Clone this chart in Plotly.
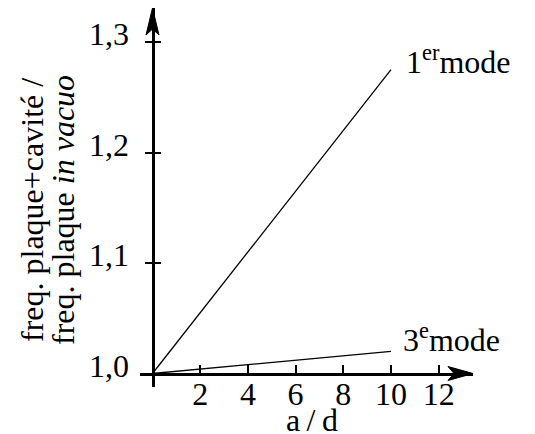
import plotly.graph_objects as go

# données
a_d = [0, 10]
mode1 = [1.0, 1.275]
mode3 = [1.0, 1.02]
x_ticks = [2, 4, 6, 8, 10, 12]
y_ticks = [1.0, 1.1, 1.2, 1.3]
y_ticktext = ["1,0", "1,1", "1,2", "1,3"]

FONT = "Liberation Serif, DejaVu Serif, serif"
FS = 32

# placement en pixels d'écran (fenêtre 535x434, marge du body = 8 px)
W, H, OFF = 535, 434, 8
PL, PR, PT, PB = 140, 473, 8, 387
X0_PX, PX_PER_X = 152.5, 23.85
Y1_PX, PX_PER_Y = 373.5, 1105.0

xmin = -(X0_PX - PL) / PX_PER_X
xmax = (PR - X0_PX) / PX_PER_X
ymin = 1.0 - (PB - Y1_PX) / PX_PER_Y
ymax = 1.0 + (Y1_PX - PT) / PX_PER_Y


def paper_x(px):
    return (px - PL) / (PR - PL)


def paper_y(py):
    return (PB - py) / (PB - PT)


xpos = (0 - xmin) / (xmax - xmin)
ypos = (1.0 - ymin) / (ymax - ymin)

fig = go.Figure()
for ys in (mode1, mode3):
    fig.add_trace(go.Scatter(x=a_d, y=ys, mode="lines",
                             line=dict(color="black", width=1.3),
                             hoverinfo="skip", showlegend=False))
# trace invisible pour l'axe des graduations intérieures
fig.add_trace(go.Scatter(x=a_d, y=mode1, yaxis="y2", mode="lines",
                         line=dict(width=0), hoverinfo="skip", showlegend=False))

fig.update_layout(
    width=W - OFF, height=H - OFF,
    margin=dict(l=PL - OFF, r=W - PR, t=PT - OFF, b=H - PB, pad=0),
    plot_bgcolor="white", paper_bgcolor="white",
    font=dict(family=FONT, size=FS, color="black"),
    xaxis=dict(range=[xmin, xmax], anchor="free", position=ypos,
               showline=True, linewidth=3, linecolor="black",
               ticks="inside", ticklen=8, tickwidth=1.5, tickcolor="black",
               tickmode="array", tickvals=x_ticks, ticklabelstandoff=-9,
               showgrid=False, zeroline=False),
    yaxis=dict(range=[ymin, ymax], anchor="free", position=xpos,
               showline=True, linewidth=3, linecolor="black",
               ticks="outside", ticklen=7, tickwidth=1.5, tickcolor="black",
               tickmode="array", tickvals=y_ticks, ticktext=y_ticktext,
               ticklabelstandoff=9, ticklabelshift=-8,
               showgrid=False, zeroline=False),
    yaxis2=dict(range=[ymin, ymax], overlaying="y", anchor="free", position=xpos,
                side="left", showline=False,
                ticks="inside", ticklen=7, tickwidth=1.5, tickcolor="black",
                tickmode="array", tickvals=y_ticks, showticklabels=False,
                showgrid=False, zeroline=False),
)

# pointes de flèche des axes
fig.add_shape(type="path", xref="x", yref="y", xsizemode="pixel", ysizemode="pixel",
              xanchor=0, yanchor=ymax,
              path="M0,0 L-6.5,-27 L0,-21 L6.5,-27 Z",
              fillcolor="black", line=dict(color="black", width=1))
fig.add_shape(type="path", xref="x", yref="y", xsizemode="pixel", ysizemode="pixel",
              xanchor=xmax, yanchor=1.0,
              path="M0,0 L-25,7 L-19,0 L-25,-7 Z",
              fillcolor="black", line=dict(color="black", width=1))

# titres d'axes
fig.add_annotation(text="freq. plaque+cavité /", textangle=-90, showarrow=False,
                   xref="paper", yref="paper", x=paper_x(32), y=paper_y(210),
                   xanchor="center", yanchor="middle")
fig.add_annotation(text="freq. plaque <i>in vacuo</i>", textangle=-90, showarrow=False,
                   xref="paper", yref="paper", x=paper_x(63), y=paper_y(210),
                   xanchor="center", yanchor="middle")
fig.add_annotation(text="a\u2009/\u2009d", showarrow=False,
                   xref="paper", yref="paper", x=paper_x(312), y=paper_y(420),
                   xanchor="center", yanchor="middle")

# étiquettes des modes
fig.add_annotation(text="1<sup>er</sup>mode", showarrow=False,
                   xref="paper", yref="paper", x=paper_x(404), y=paper_y(60),
                   xanchor="left", yanchor="middle")
fig.add_annotation(text="3<sup>e</sup>mode", showarrow=False,
                   xref="paper", yref="paper", x=paper_x(401), y=paper_y(338),
                   xanchor="left", yanchor="middle")

fig.write_html("out.html")
